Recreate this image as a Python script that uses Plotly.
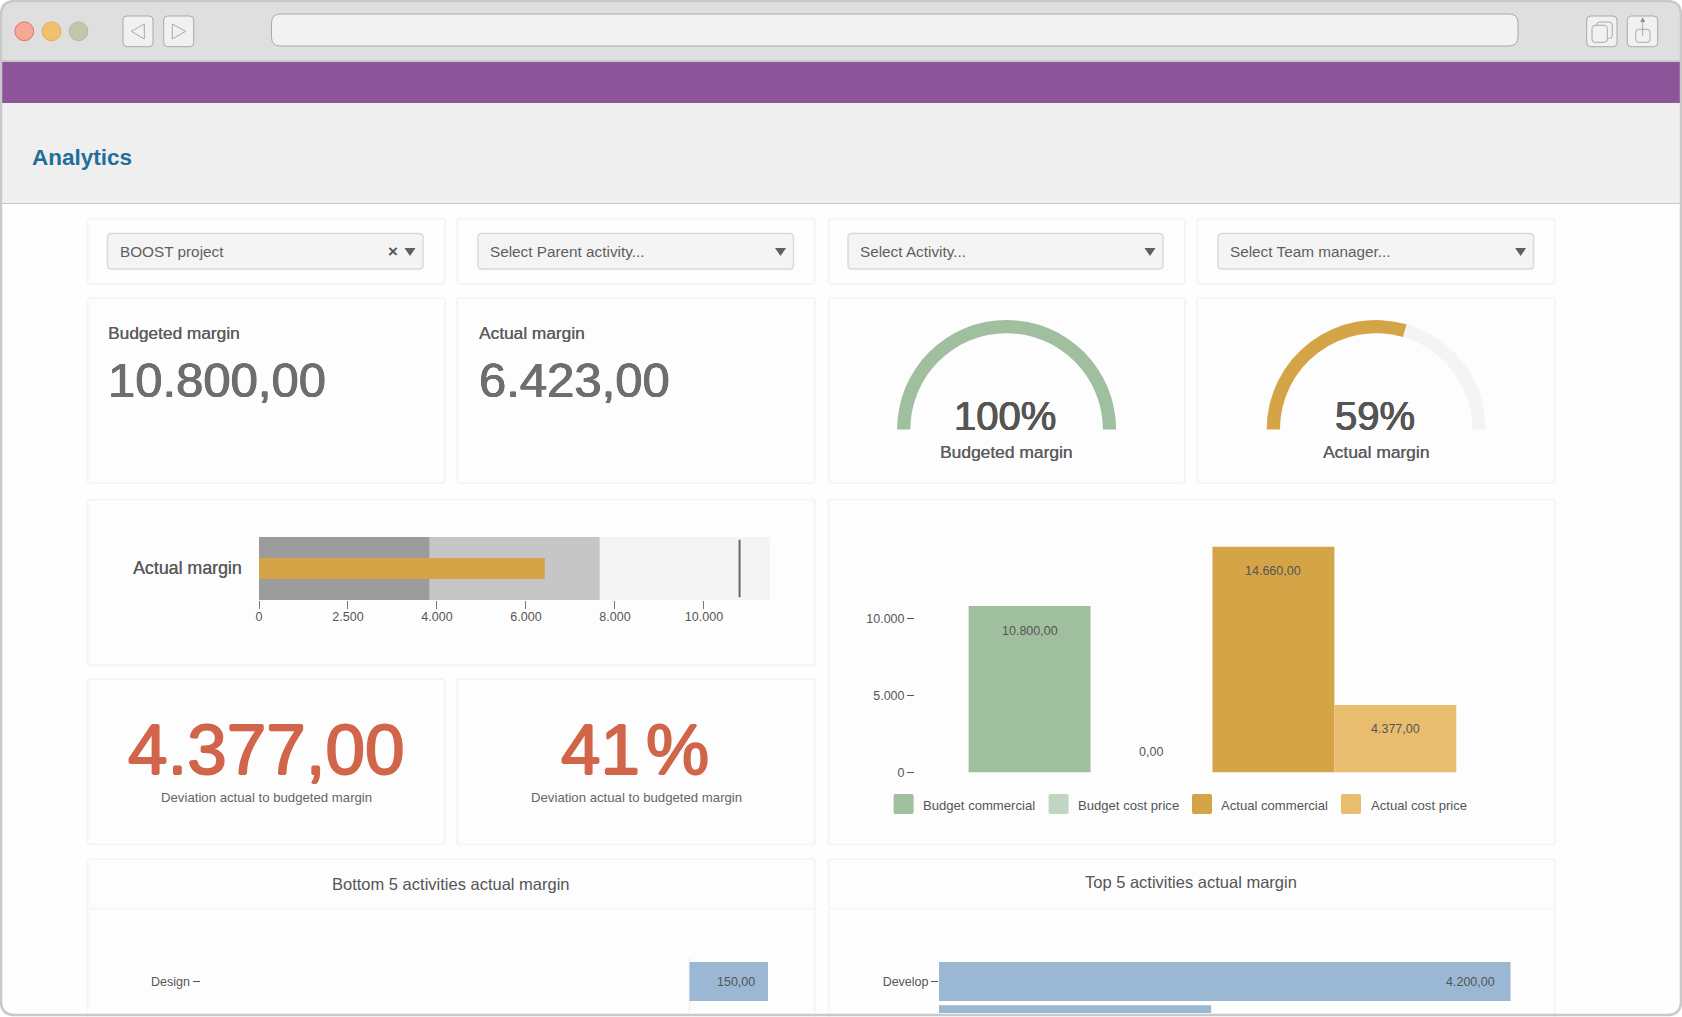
import plotly.graph_objects as go

# ---------- data ----------
FILTERS = ["BOOST project", "Select Parent activity...", "Select Activity...", "Select Team manager..."]
KPI_LABELS = ["Budgeted margin", "Actual margin"]
KPI_VALUES = ["10.800,00", "6.423,00"]
GAUGE_LABELS = ["Budgeted margin", "Actual margin"]
GAUGE_PCT = [100, 59]
GAUGE_COLORS = ["#a0bf9f", "#d4a446"]
BULLET_LABEL = "Actual margin"
BULLET_RANGES = [11484, 7656, 3828]
BULLET_RANGE_COLORS = ["#f4f4f4", "#c6c6c6", "#9c9c9c"]
BULLET_ACTUAL = 6423
BULLET_TARGET = 10800
BULLET_TICKS = [0, 2000, 4000, 6000, 8000, 10000]
BULLET_TICKTEXT = ["0", "2.500", "4.000", "6.000", "8.000", "10.000"]
DEVIATIONS = ["4.377,00", "41\u200a%"]
DEVIATION_LABEL = "Deviation actual to budgeted margin"
COL_NAMES = ["Budget commercial", "Budget cost price", "Actual commercial", "Actual cost price"]
COL_VALUES = [10800, 0, 14660, 4377]
COL_COLORS = ["#a0bf9f", "#c1d6c0", "#d4a446", "#e9bd6f"]
COL_TICKS = [0, 5000, 10000]
COL_TICKTEXT = ["0", "5.000", "10.000"]
BOTTOM_TITLE = "Bottom 5 activities actual margin"
BOTTOM_CATS = ["Design"]
BOTTOM_VALUES = [150]
TOP_TITLE = "Top 5 activities actual margin"
TOP_CATS = ["Develop", " "]
TOP_VALUES = [4200, 2000]
BAR_BLUE = "#9ab7d3"

W, H = 1682, 1017
FONT = "Liberation Sans"
TXT = "#555555"
LABEL = "#5c5c5c"

def fx(x): return x / W
def fy(y): return 1 - y / H

shapes, annos = [], []

def rrect(x0, y0, x1, y1, r, fill=None, line=None, lw=1, layer="below"):
    X0, X1, Y0, Y1 = fx(x0), fx(x1), fy(y0), fy(y1)
    rx, ry = r / W, r / H
    p = (f"M{X0+rx},{Y0} L{X1-rx},{Y0} Q{X1},{Y0} {X1},{Y0-ry} L{X1},{Y1+ry} Q{X1},{Y1} {X1-rx},{Y1} "
         f"L{X0+rx},{Y1} Q{X0},{Y1} {X0},{Y1+ry} L{X0},{Y0-ry} Q{X0},{Y0} {X0+rx},{Y0} Z")
    shapes.append(dict(type="path", xref="paper", yref="paper", path=p, layer=layer,
                       fillcolor=fill or "rgba(0,0,0,0)",
                       line=dict(color=line or "rgba(0,0,0,0)", width=lw if line else 0)))

def rect(x0, y0, x1, y1, fill):
    shapes.append(dict(type="rect", xref="paper", yref="paper", x0=fx(x0), x1=fx(x1), y0=fy(y1), y1=fy(y0),
                       fillcolor=fill, line=dict(width=0), layer="below"))

def poly(pts, fill=None, line=None, lw=1, close=True):
    p = "M" + " L".join(f"{fx(a)},{fy(b)}" for a, b in pts) + (" Z" if close else "")
    shapes.append(dict(type="path", xref="paper", yref="paper", path=p, layer="below",
                       fillcolor=fill or "rgba(0,0,0,0)",
                       line=dict(color=line or "rgba(0,0,0,0)", width=lw if line else 0)))

def circle(cx, cy, r, fill, line):
    shapes.append(dict(type="circle", xref="paper", yref="paper", x0=fx(cx-r), x1=fx(cx+r), y0=fy(cy+r), y1=fy(cy-r),
                       fillcolor=fill, line=dict(color=line, width=1), layer="below"))

def heavy(c, d):
    e = round(d * 0.7, 2)
    return f"{d}px 0 0 {c}, -{d}px 0 0 {c}, 0 {e}px 0 {c}, 0 -{e}px 0 {c}"

def txt(x, y, s, size, color=TXT, anchor="left", weight=400, bold=0.0):
    f = dict(family=FONT, size=size, color=color, weight=weight)
    if bold:
        f["shadow"] = f"{bold}px 0 0 {color}" if bold < 0.3 else heavy(color, bold)
    annos.append(dict(xref="paper", yref="paper", x=fx(x), y=fy(y), text=s, showarrow=False,
                      xanchor=anchor, yanchor="middle", borderpad=0, borderwidth=0, font=f))

def fmt(v):
    s = f"{v:,.2f}"
    return s.replace(",", "X").replace(".", ",").replace("X", ".")

# ---------- browser chrome ----------
rrect(1, 1, 1681, 1015, 14, fill="#fefefe")
rrect(1, 1, 1681, 70, 14, fill="#dfdfdf")
rect(2, 60, 1680, 62, "#c9c9c9")
rect(2, 62, 1680, 103, "#8c5599")
rect(2, 103, 1680, 203, "#efefef")
rect(2, 203, 1680, 204, "#c8c8c8")
circle(24.3, 31.3, 9.4, "#f5a896", "#e0725e")
circle(51.5, 31.3, 9.4, "#f0c26f", "#e2ac4e")
circle(78.5, 31.3, 9.4, "#c2c7ab", "#b5bb9c")
for a, b in [(123, 153), (163.7, 193.7), (1586.7, 1617), (1627.3, 1657.7)]:
    rrect(a, 16, b, 46.7, 4, fill="#f1f1f1", line="#a9a9a9", lw=1)
poly([(131.3, 31.3), (144.3, 24), (144.3, 39)], line="#a9a9a9")
poly([(172.3, 24), (172.3, 39), (185.7, 31.3)], line="#a9a9a9")
rrect(271.5, 14, 1518, 46, 9, fill="#f2f2f2", line="#ababab", lw=1)
rrect(1596.7, 22, 1612.3, 38.3, 3, line="#a9a9a9")
rrect(1592, 25.3, 1607.3, 42.3, 3, fill="#f1f1f1", line="#a9a9a9")
rrect(1635.7, 29.3, 1650, 42.3, 3, line="#a9a9a9")
poly([(1642.7, 22), (1642.7, 36)], line="#a9a9a9", close=False)
poly([(1642.7, 17.3), (1640.2, 22), (1645.2, 22)], fill="#8f8f8f")
txt(32, 157, "Analytics", 22.5, "#1f6e9b", weight=700)

# ---------- cards ----------
CARD_X = [(87.5, 445), (457, 815), (828.5, 1185), (1197, 1555)]
def card(x0, y0, x1, y1):
    rrect(x0, y0, x1, y1, 3, fill="#fdfdfd", line="#f5f5f5", lw=2)

SEL_X = [(107.5, 423), (478, 793.5), (848, 1163), (1218, 1533.6)]
for (a, b), (s0, s1), f in zip(CARD_X, SEL_X, FILTERS):
    card(a, 218.5, b, 284)
    rrect(s0, 233.5, s1, 269, 4, fill="#f4f4f4", line="#d9d9d9", lw=1.5)
    txt(s0 + 12, 251.5, f, 15.3, "#5f5f5f")
    ax = s1 - 13
    poly([(ax - 5.5, 248), (ax + 5.5, 248), (ax, 256)], fill="#5f5f5f")
txt(393, 251.5, "×", 17, "#555555", "center", 700)

for (a, b) in CARD_X:
    card(a, 298, b, 483)
for i, (lab, val) in enumerate(zip(KPI_LABELS, KPI_VALUES)):
    x = [108, 479][i]
    txt(x, 333, lab, 17.3, LABEL, bold=0.25)
    txt(x, 380, val, 49, "#6e6e6e", bold=0.6)

card(87.5, 499.5, 815, 665.5)
card(828.5, 499.5, 1555, 844.5)
card(87.5, 679, 445, 844.5)
card(457, 679, 815, 844.5)
card(87.5, 859, 815, 1030)
card(828.5, 859, 1555, 1030)
rect(87, 907.5, 815, 909.5, "#f5f5f5")
rect(828, 907.5, 1555, 909.5, "#f5f5f5")

# ---------- gauges ----------
fig = go.Figure()
GAUGE_CX = [1006.6, 1376.2]
R, CY = 109.5, 429.5
for cx, pct, col, lab in zip(GAUGE_CX, GAUGE_PCT, GAUGE_COLORS, GAUGE_LABELS):
    fig.add_trace(go.Pie(values=[pct, 100 - pct, 100], sort=False, direction="clockwise", rotation=270,
                         hole=1 - 13.2 / R, textinfo="none", hoverinfo="skip", showlegend=False,
                         marker=dict(colors=[col, "#f4f4f4", "rgba(0,0,0,0)"], line=dict(width=0)),
                         domain=dict(x=[fx(cx - R), fx(cx + R)], y=[fy(CY + R), fy(CY - R)])))
    txt(cx - 1.5, 416, f"{pct}%", 40, anchor="center", bold=0.5)
    txt(cx - 0.5, 452, lab, 17.4, LABEL, anchor="center", bold=0.25)

# ---------- bullet ----------
for v, c in zip(BULLET_RANGES, BULLET_RANGE_COLORS):
    fig.add_trace(go.Bar(x=[v], y=[0], orientation="h", width=1, marker=dict(color=c, line=dict(width=0)),
                         xaxis="x", yaxis="y", showlegend=False, hoverinfo="skip"))
fig.add_trace(go.Bar(x=[BULLET_ACTUAL], y=[0], orientation="h", width=1 / 3,
                     marker=dict(color="#d4a446", line=dict(width=0)),
                     xaxis="x", yaxis="y", showlegend=False, name=BULLET_LABEL))
fig.add_trace(go.Scatter(x=[BULLET_TARGET], y=[0], mode="markers", xaxis="x", yaxis="y", showlegend=False,
                         marker=dict(symbol="line-ns", size=41, color="#666666", line=dict(color="#666666", width=2))))
txt(241.5, 568, BULLET_LABEL, 17.8, LABEL, anchor="right", bold=0.25)

# ---------- columns ----------
for n, v, c in zip(COL_NAMES, COL_VALUES, COL_COLORS):
    fig.add_trace(go.Bar(x=[n], y=[v], width=1, name=n, xaxis="x2", yaxis="y2", showlegend=False,
                         marker=dict(color=c, line=dict(width=0))))
    annos.append(dict(xref="x2", yref="y2", x=n, y=v, text=fmt(v), showarrow=False, yanchor="middle",
                      yshift=20 if v == 0 else -24.5, font=dict(family=FONT, size=12.5, color=TXT)))
LEG_X = [893.6, 1048.6, 1192, 1341]
LEG_TXT = [923, 1078, 1221, 1371]
for x, t, n, c in zip(LEG_X, LEG_TXT, COL_NAMES, COL_COLORS):
    rrect(x, 794, x + 20, 814, 2, fill=c)
    txt(t, 805.5, n, 13.1)

# ---------- bottom / top ----------
txt(450.6, 883.6, BOTTOM_TITLE, 16.5, anchor="center")
txt(1190.8, 881.6, TOP_TITLE, 16.5, anchor="center")
fig.add_trace(go.Bar(x=BOTTOM_VALUES, y=BOTTOM_CATS, orientation="h", width=0.9, xaxis="x3", yaxis="y3",
                     marker=dict(color=BAR_BLUE, line=dict(width=0)), showlegend=False))
fig.add_trace(go.Bar(x=TOP_VALUES, y=TOP_CATS, orientation="h", width=0.9, xaxis="x4", yaxis="y4",
                     marker=dict(color=BAR_BLUE, line=dict(width=0)), showlegend=False))
for c, v in zip(BOTTOM_CATS, BOTTOM_VALUES):
    annos.append(dict(xref="x3", yref="y3", x=v, y=c, text=fmt(v), showarrow=False, xanchor="right", xshift=-11.5,
                      font=dict(family=FONT, size=12.5, color=TXT)))
for c, v in zip(TOP_CATS[:1], TOP_VALUES[:1]):
    annos.append(dict(xref="x4", yref="y4", x=v, y=c, text=fmt(v), showarrow=False, xanchor="right", xshift=-14,
                      font=dict(family=FONT, size=12.5, color=TXT)))

# ---------- window frame on top ----------
rrect(1, 1, 1681, 1015, 14, line="#c9c9c9", lw=2.5, layer="above")

tickfont = dict(family=FONT, size=12.5, color=TXT)
hidden = dict(visible=False, fixedrange=True)
BOT_PX = 78.5 / 150
TOP_PX = 571.5 / 4200
BAND = 43.3
BAR_TOP, BAR_CY = 958, 981.5
yr = [(1013 - BAR_CY) / BAND, (BAR_TOP - BAR_CY) / BAND]

fig.update_layout(
    width=W, height=H, margin=dict(l=0, r=0, t=0, b=0, pad=0, autoexpand=False), autosize=False,
    paper_bgcolor="#ffffff", plot_bgcolor="rgba(0,0,0,0)",
    barmode="overlay", showlegend=False, shapes=shapes, annotations=annos,
    font=dict(family=FONT, color=TXT),
    xaxis=dict(domain=[fx(259), fx(770)], range=[0, 11484], anchor="y", tickvals=BULLET_TICKS,
               ticktext=BULLET_TICKTEXT, ticks="outside", ticklen=8, tickcolor="#777777", tickfont=tickfont,
               ticklabelstandoff=-3,
               showgrid=False, zeroline=False, showline=False, fixedrange=True),
    yaxis=dict(domain=[fy(600), fy(537)], range=[-0.5, 0.5], anchor="x", **hidden),
    xaxis2=dict(domain=[fx(915), fx(1510)], range=[-0.5 - (1029.6 - 61 - 915) / 121.9, 3.5 + (1510 - 1456.3) / 121.9],
                type="category", categoryorder="array", categoryarray=COL_NAMES, anchor="y2",
                showticklabels=False, ticks="", showgrid=False, zeroline=False, showline=False, fixedrange=True),
    yaxis2=dict(domain=[fy(772.4), fy(530)], range=[0, (772.4 - 530) / 0.0154], anchor="x2", tickvals=COL_TICKS,
                ticktext=COL_TICKTEXT, ticks="outside", ticklen=7, tickcolor=TXT, tickfont=tickfont,
                showgrid=False, zeroline=False, showline=False, fixedrange=True),
    xaxis3=dict(domain=[fx(200.5), fx(775)], range=[-(689.5 - 200.5) / BOT_PX, 150 + (775 - 768) / BOT_PX], anchor="y3",
                visible=False, zeroline=False, showgrid=False, fixedrange=True),
    yaxis3=dict(domain=[fy(1013), fy(BAR_TOP)], range=yr, anchor="x3", type="category", ticks="outside", ticklen=7,
                tickcolor=TXT, tickfont=tickfont, showgrid=False, zeroline=False, showline=False, fixedrange=True),
    xaxis4=dict(domain=[fx(939), fx(1520)], range=[0, (1520 - 939) / TOP_PX], anchor="y4",
                visible=False, zeroline=False, showgrid=False, fixedrange=True),
    yaxis4=dict(domain=[fy(1013), fy(BAR_TOP)], range=yr, anchor="x4", type="category", ticks="outside", ticklen=7,
                tickcolor=TXT, tickfont=tickfont, showgrid=False, zeroline=False, showline=False, fixedrange=True),
)
# faint zero rule of the bottom chart, tied to its own x axis
fig.add_shape(type="line", xref="x3", yref="paper", x0=0, x1=0, y0=fy(1013), y1=fy(958),
              line=dict(color="#f0f0f0", width=1.5), layer="below")

# deviation figures
DEV_RED = "#d1654a"
for cx, s in zip([266, 634.5], DEVIATIONS):
    fig.add_annotation(xref="paper", yref="paper", x=fx(cx), y=fy(749.5), text=s, showarrow=False, xanchor="center",
                       yanchor="middle", font=dict(family=FONT, size=71, color=DEV_RED, weight=400,
                                                   shadow=heavy(DEV_RED, 1.0)))
for cx in [266, 636]:
    fig.add_annotation(xref="paper", yref="paper", x=fx(cx), y=fy(797), text=DEVIATION_LABEL, showarrow=False,
                       xanchor="center", yanchor="middle", font=dict(family=FONT, size=13.2, color="#666666"))

fig.write_html("out.html", config=dict(displayModeBar=False),
               post_script="document.body.style.margin='0';document.body.style.overflow='hidden';")
